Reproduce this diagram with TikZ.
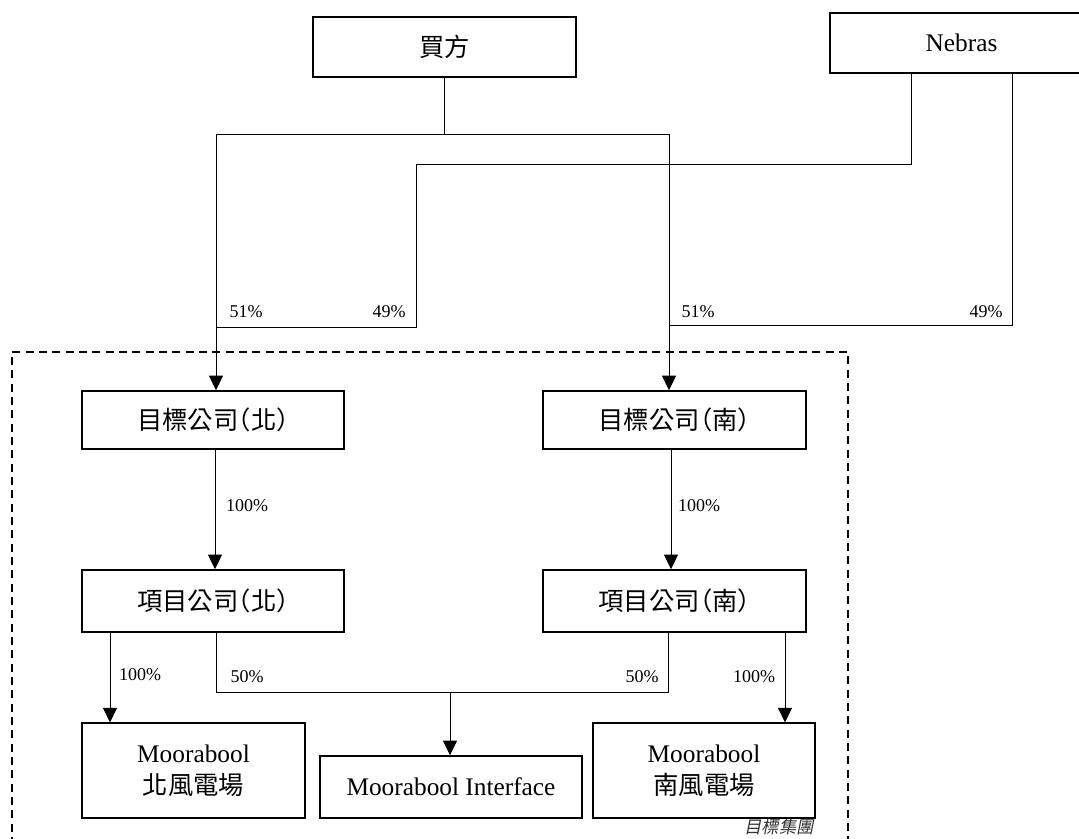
\documentclass[tikz,border=0pt]{standalone}
\usepackage{fontspec}
\setmainfont{Liberation Serif}
\newfontfamily\cjk[RawFeature=+halt]{Noto Sans CJK TC}
\newfontfamily\cjkit[FakeSlant=0.2]{Noto Sans CJK TC}
\usetikzlibrary{arrows.meta}
\tikzset{
  box/.style={draw, line width=1.1pt, inner sep=0pt, align=center, font=\fontsize{19}{22}\selectfont},
  conn/.style={line width=0.7pt},
  arr/.style={line width=0.7pt, -{Triangle[length=11pt,width=10.5pt]}},
  pct/.style={font=\fontsize{13.5}{15}\selectfont, inner sep=0pt},
}
\begin{document}
\begin{tikzpicture}[x=0.75pt,y=-0.75pt]
\useasboundingbox (0,0) rectangle (1079,839);
% boxes
\node[box, minimum width=197pt, minimum height=45pt] (buyer) at (444.5,47) {\cjk 買方};
\node[box, minimum width=197pt, minimum height=45pt] (nebras) at (961.5,43) {Nebras};
\node[box, minimum width=196.5pt, minimum height=43.5pt] (tN) at (213,420) {\cjk 目標公司（北）};
\node[box, minimum width=197pt, minimum height=43.5pt] (tS) at (674.5,420) {\cjk 目標公司（南）};
\node[box, minimum width=196.5pt, minimum height=46.5pt] (pN) at (213,601) {\cjk 項目公司（北）};
\node[box, minimum width=197pt, minimum height=46.5pt] (pS) at (674.5,601) {\cjk 項目公司（南）};
\node[box, minimum width=167pt, minimum height=71pt] (mN) at (193.5,770.5) {Moorabool\\[2pt]{\cjk 北風電場}};
\node[box, minimum width=196.5pt, minimum height=46.5pt] (mI) at (451,787) {Moorabool Interface};
\node[box, minimum width=166.5pt, minimum height=71pt] (mS) at (704,770.5) {Moorabool\\[2pt]{\cjk 南風電場}};
% junction coordinates
\coordinate (b1) at (216,134);
\coordinate (b2) at (669,134);
\coordinate (n1) at (911,164);
\coordinate (n2) at (416,164);
\coordinate (n3) at (416,327);
\coordinate (r1) at (1012,325);
\coordinate (r2) at (669,325);
\coordinate (c1) at (216,692);
\coordinate (c2) at (668,692);
\coordinate (c3) at (450,692);
% buyer connectors
\draw[conn] (buyer.south) -- (buyer.south |- b1);
\draw[conn] (b1) -- (b2);
\draw[arr] (b1) -- (b1 |- tN.north);
\draw[arr] (b2) -- (b2 |- tS.north);
% nebras connectors
\draw[conn] (n1 |- nebras.south) -- (n1) -- (n2) -- (n3) -- (n3 -| b1);
\draw[conn] (r1 |- nebras.south) -- (r1) -- (r2);
% 100% down
\draw[arr] (tN.south -| 215,0) -- (pN.north -| 215,0);
\draw[arr] (tS.south -| 671,0) -- (pS.north -| 671,0);
% project -> farms
\draw[arr] (pN.south -| 110,0) -- (mN.north -| 110,0);
\draw[arr] (pS.south -| 785,0) -- (mS.north -| 785,0);
\draw[conn] (pN.south -| c1) -- (c1) -- (c2) -- (pS.south -| c2);
\draw[arr] (c3) -- (mI.north -| c3);
% labels
\node[pct] at (246,312) {51\%};
\node[pct] at (389,312) {49\%};
\node[pct] at (698,312) {51\%};
\node[pct] at (986,312) {49\%};
\node[pct] at (247,506) {100\%};
\node[pct] at (699,506) {100\%};
\node[pct] at (140,675) {100\%};
\node[pct] at (247,677) {50\%};
\node[pct] at (642,677) {50\%};
\node[pct] at (754,677) {100\%};
% dashed group
\draw[line width=1pt, dashed, dash pattern=on 6pt off 4pt] (12,845) -- (12,352) -- (848,352) -- (848,845);
\node[font=\cjkit\fontsize{13}{15}\selectfont, text=black!80, inner sep=0pt] (grp) at (779,827) {目標集團};
\end{tikzpicture}
\end{document}
